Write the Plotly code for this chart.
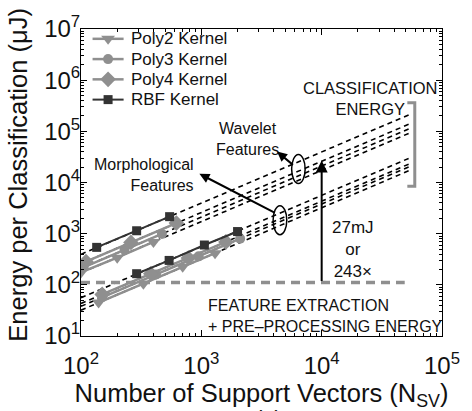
import numpy as np
import plotly.graph_objects as go

# ---- measured classification energy (uJ) vs number of support vectors ----
kernels = ["Poly2 Kernel", "Poly3 Kernel", "Poly4 Kernel", "RBF Kernel"]

# Wavelet features
wav_poly2_n = [100, 200, 400]
wav_poly2_e = [175, 340, 690]
wav_poly3_n = [105, 230, 470]
wav_poly3_e = [220, 485, 990]
wav_poly4_n = [110, 260, 620]
wav_poly4_e = [285, 675, 1610]
wav_rbf_n = [135, 290, 545]
wav_rbf_e = [540, 1140, 2150]

# Morphological features
mor_poly2_n = [140, 330, 700, 1300]
mor_poly2_e = [45, 105, 225, 415]
mor_poly3_n = [150, 420, 950, 2100]
mor_poly3_e = [57, 160, 360, 800]
mor_poly4_n = [150, 380, 780, 1600]
mor_poly4_e = [65, 165, 335, 690]
mor_rbf_n = [290, 540, 1060, 2000]
mor_rbf_e = [165, 300, 600, 1100]

# Extrapolation span for the linear-in-N_SV trend lines
trend_n = [100, 54000]

# Feature extraction + pre-processing energy and the gap annotation
fe_energy = 27000 / 243          # uJ
gap_energy = 27000               # uJ (27 mJ)
gap_n = 1e4
fe_n = [100, 49000]

# Classification-energy bracket
class_range = [8400, 360000]
bracket_n = [51500, 59400]

# Group ellipses (N range, E range)
wav_ellipse = ([5630, 7290], [9560, 35200])
mor_ellipse = ([3950, 5130], [957, 3520])

xticks = [1e2, 1e3, 1e4, 1e5]
xtick_text = ["10<sup>2</sup>", "10<sup>3</sup>", "10<sup>4</sup>", "10<sup>5</sup>"]
yticks = [1e1, 1e2, 1e3, 1e4, 1e5, 1e6, 1e7]
ytick_text = ["10<sup>%d</sup>" % p for p in range(1, 8)]

GRAY = "#8f8f8f"
DARK = "#333333"
FONT = "Liberation Sans, Arial, sans-serif"

styles = {
    "Poly2 Kernel": dict(color=GRAY, symbol="triangle-down", size=12, lw=2.5),
    "Poly3 Kernel": dict(color=GRAY, symbol="circle", size=10, lw=2.5),
    "Poly4 Kernel": dict(color=GRAY, symbol="diamond", size=12, lw=2.5),
    "RBF Kernel": dict(color=DARK, symbol="square", size=9, lw=2),
}

series = [
    ("Poly2 Kernel", wav_poly2_n, wav_poly2_e, mor_poly2_n, mor_poly2_e),
    ("Poly3 Kernel", wav_poly3_n, wav_poly3_e, mor_poly3_n, mor_poly3_e),
    ("Poly4 Kernel", wav_poly4_n, wav_poly4_e, mor_poly4_n, mor_poly4_e),
    ("RBF Kernel", wav_rbf_n, wav_rbf_e, mor_rbf_n, mor_rbf_e),
]

fig = go.Figure()

# Dashed trend lines: energy proportional to N_SV, fitted per series
for name, wn, we, mn, me in series:
    for n, e in ((wn, we), (mn, me)):
        k = np.exp(np.mean(np.log(np.array(e) / np.array(n))))
        tn = np.array(trend_n, dtype=float)
        fig.add_trace(go.Scatter(
            x=tn, y=k * tn, mode="lines", showlegend=False, hoverinfo="skip",
            line=dict(color="black", width=1.6, dash="5px,4px")))

# Feature extraction energy level
fig.add_trace(go.Scatter(
    x=fe_n, y=[fe_energy, fe_energy], mode="lines", showlegend=False,
    line=dict(color=GRAY, width=3.5, dash="9px,6px")))

# Classification energy bracket
fig.add_trace(go.Scatter(
    x=[bracket_n[0], bracket_n[1], bracket_n[1], bracket_n[0]],
    y=[class_range[1], class_range[1], class_range[0], class_range[0]],
    mode="lines", showlegend=False,
    line=dict(color=GRAY, width=3)))

# Measured data
for name, wn, we, mn, me in series:
    st = styles[name]
    for n, e in ((wn, we), (mn, me)):
        fig.add_trace(go.Scatter(
            x=n, y=e, mode="lines+markers", name=name, showlegend=False,
            line=dict(color=st["color"], width=st["lw"]),
            marker=dict(color=st["color"], symbol=st["symbol"], size=st["size"])))

# Legend keys on an overlaid unit axis (plot-area fractions)
key_x = [0.032, 0.118]
key_y = [0.968, 0.902, 0.836, 0.770]
legend_ann = []
for name, ky in zip(kernels, key_y):
    st = styles[name]
    fig.add_trace(go.Scatter(
        x=key_x, y=[ky, ky], xaxis="x2", yaxis="y2", mode="lines",
        showlegend=False, hoverinfo="skip",
        line=dict(color=st["color"], width=st["lw"])))
    fig.add_trace(go.Scatter(
        x=[np.mean(key_x)], y=[ky], xaxis="x2", yaxis="y2", mode="markers",
        showlegend=False, hoverinfo="skip",
        marker=dict(color=st["color"], symbol=st["symbol"], size=st["size"])))
    legend_ann.append(dict(xref="paper", yref="paper", x=0.132, y=ky,
                           xanchor="left", yanchor="middle", text=name,
                           showarrow=False, font=dict(size=17)))

lg = np.log10
annotations = legend_ann + [
    # y-axis title
    dict(xref="paper", yref="paper", x=-0.175, y=0.525, xanchor="center",
         yanchor="middle", textangle=-90, showarrow=False,
         text="Energy per Classification (μJ)", font=dict(size=25.5)),
    dict(x=3.387, y=4.85, text="Wavelet<br>Features", showarrow=False,
         font=dict(size=16), align="center"),
    dict(x=2.955, y=4.14, text="Morphological<br>Features", showarrow=False,
         xanchor="right", align="right", font=dict(size=16)),
    dict(x=4.40, y=5.64, text="CLASSIFICATION<br>ENERGY", showarrow=False,
         font=dict(size=16.5), align="center"),
    dict(x=4.258, y=2.698, text="27mJ<br>or<br>243×", showarrow=False,
         font=dict(size=17), align="center"),
    dict(x=3.04, y=1.396, text="FEATURE EXTRACTION<br>+ PRE–PROCESSING ENERGY",
         showarrow=False, xanchor="left", align="left", font=dict(size=16)),
    # panel tag below the axis title
    dict(xref="paper", yref="paper", x=0.52, y=-0.222, xanchor="center",
         yanchor="top", text="(a)", showarrow=False, font=dict(size=22)),
    # gap arrow
    dict(x=lg(gap_n), y=lg(gap_energy), ax=lg(gap_n), ay=lg(fe_energy),
         axref="x", ayref="y", text="", showarrow=True, arrowhead=2,
         arrowsize=1.2, arrowwidth=2, arrowcolor="black", standoff=0),
    # label pointers
    dict(x=3.629, y=4.604, ax=3.774, ay=4.32, axref="x", ayref="y", text="",
         showarrow=True, arrowhead=2, arrowsize=1, arrowwidth=2,
         arrowcolor="black", standoff=0),
    dict(x=2.984, y=4.17, ax=3.621, ay=3.396, axref="x", ayref="y", text="",
         showarrow=True, arrowhead=2, arrowsize=1, arrowwidth=2,
         arrowcolor="black", standoff=0),
]

shapes = []
for (xn, ye) in (wav_ellipse, mor_ellipse):
    shapes.append(dict(type="circle", xref="x", yref="y",
                       x0=xn[0], x1=xn[1], y0=ye[0], y1=ye[1],
                       line=dict(color="black", width=1.5)))

axis_common = dict(
    type="log", showline=True, linecolor="black", linewidth=1, mirror="allticks",
    ticks="inside", ticklen=6, tickcolor="black", showgrid=False, zeroline=False,
    tickfont=dict(size=24, color="#111"),
    minor=dict(ticks="inside", ticklen=3, tickcolor="black", showgrid=False,
               dtick="D1"),
)

fig.update_layout(
    width=472, height=411,
    margin=dict(l=81, r=19, t=20, b=73),
    paper_bgcolor="white", plot_bgcolor="white",
    font=dict(family=FONT, color="#111"),
    showlegend=False,
    xaxis=dict(axis_common, range=[2, 5], tickvals=xticks, ticktext=xtick_text,
               ticklabelstandoff=8,
               title=dict(text="Number of Support Vectors (N<sub>SV</sub>)",
                          font=dict(size=25.5), standoff=2)),
    yaxis=dict(axis_common, range=[1, 7], tickvals=yticks, ticktext=ytick_text,
               ticklabelstandoff=-5),
    xaxis2=dict(overlaying="x", range=[0, 1], visible=False, fixedrange=True),
    yaxis2=dict(overlaying="y", range=[0, 1], visible=False, fixedrange=True),
    annotations=annotations,
    shapes=shapes,
)

fig.write_html("out.html")
